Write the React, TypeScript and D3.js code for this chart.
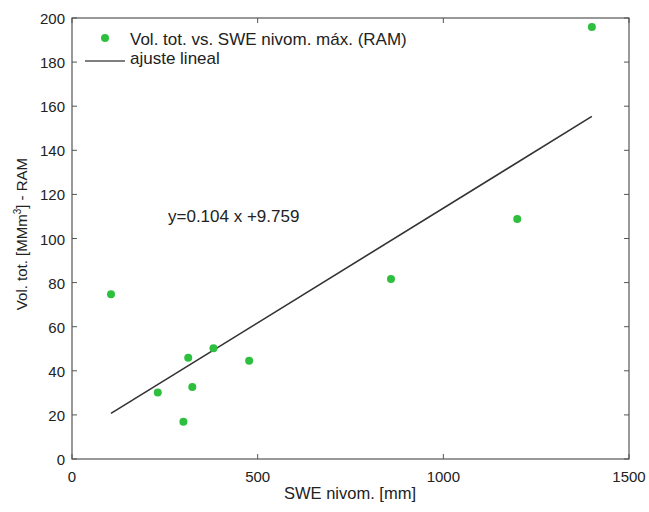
import React from "react";
import * as d3 from "d3";

const sweValues = [105, 231, 300, 313, 324, 381, 477, 859, 1199, 1400];
const volValues = [74.7, 30.2, 16.9, 45.9, 32.6, 50.2, 44.6, 81.6, 108.8, 195.9];
const slope = 0.104;
const intercept = 9.759;
const xTicks = [0, 500, 1000, 1500];
const yTicks = [0, 20, 40, 60, 80, 100, 120, 140, 160, 180, 200];
const legendLabels = ["Vol. tot. vs. SWE nivom. máx. (RAM)", "ajuste lineal"];
const equationText = "y=0.104 x +9.759";

const W = 649;
const H = 512;
const L = 72, R = 629, T = 18, B = 459;
const font = "'Liberation Sans', Arial, sans-serif";
const axisColor = "#555";
const green = "#2fbf3f";

export default function App() {
  const x = d3.scaleLinear().domain([0, 1500]).range([L, R]);
  const y = d3.scaleLinear().domain([0, 200]).range([B, T]);
  const xMin = d3.min(sweValues) as number;
  const xMax = d3.max(sweValues) as number;
  const fit = d3
    .line<number>()
    .x((d) => x(d))
    .y((d) => y(slope * d + intercept));
  const pts = sweValues.map((v, i) => ({ x: v, y: volValues[i] }));
  const tl = 5;
  return (
    <svg
      width={W}
      height={H}
      style={{ position: "absolute", left: 0, top: 0, background: "#fff" }}
      fontFamily={font}
    >
      <rect x={0} y={0} width={W} height={H} fill="#fff" />
      {xTicks.map((t) => (
        <g key={"x" + t}>
          <line x1={x(t)} x2={x(t)} y1={B} y2={B - tl} stroke={axisColor} />
          <line x1={x(t)} x2={x(t)} y1={T} y2={T + tl} stroke={axisColor} />
          <text x={x(t)} y={B + 23} fontSize={15} textAnchor="middle" fill="#222">
            {t}
          </text>
        </g>
      ))}
      {yTicks.map((t) => (
        <g key={"y" + t}>
          <line x1={L} x2={L + tl} y1={y(t)} y2={y(t)} stroke={axisColor} />
          <line x1={R} x2={R - tl} y1={y(t)} y2={y(t)} stroke={axisColor} />
          <text x={L - 7} y={y(t) + 6} fontSize={15} textAnchor="end" fill="#222">
            {t}
          </text>
        </g>
      ))}
      <rect x={L} y={T} width={R - L} height={B - T} fill="none" stroke={axisColor} strokeWidth={1.2} />
      <path d={fit([xMin, xMax]) || ""} stroke="#333" strokeWidth={1.6} fill="none" />
      {pts.map((p, i) => (
        <circle key={i} cx={x(p.x)} cy={y(p.y)} r={4} fill={green} />
      ))}
      <text x={168} y={222} fontSize={17} fill="#222">
        {equationText}
      </text>
      <circle cx={105} cy={38} r={4} fill={green} />
      <text x={130} y={45} fontSize={17} fill="#222">
        {legendLabels[0]}
      </text>
      <line x1={85} x2={125} y1={61} y2={61} stroke="#555" strokeWidth={1.6} />
      <text x={130} y={64} fontSize={17} fill="#222">
        {legendLabels[1]}
      </text>
      <text x={350} y={499} fontSize={16.5} textAnchor="middle" fill="#222">
        SWE nivom. [mm]
      </text>
      <text
        transform={`translate(27, 234) rotate(-90)`}
        fontSize={15}
        textAnchor="middle"
        fill="#222"
      >
        Vol. tot. [MMm
        <tspan dy={-6} fontSize={10}>3</tspan>
        <tspan dy={6}>] - RAM</tspan>
      </text>
    </svg>
  );
}
